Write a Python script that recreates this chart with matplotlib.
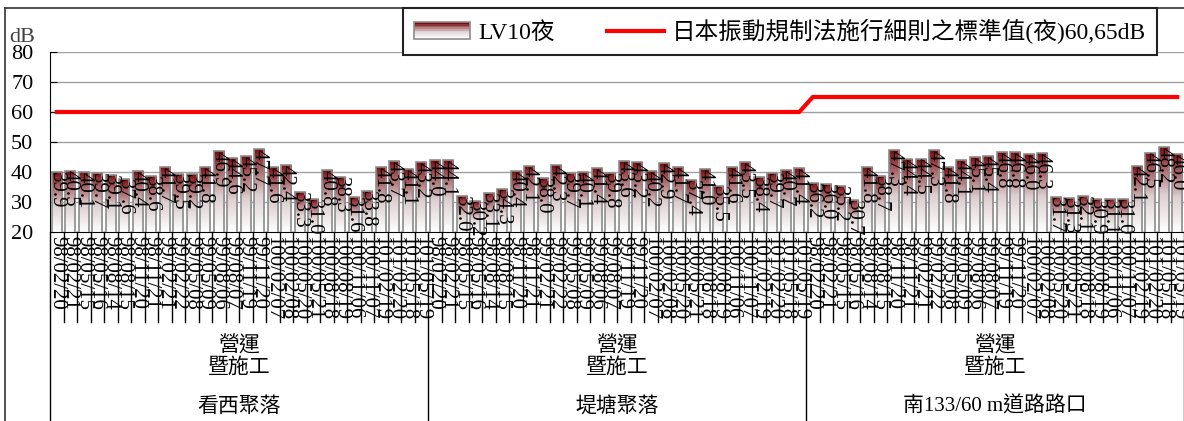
import matplotlib.pyplot as plt
import numpy as np
from matplotlib.colors import LinearSegmentedColormap
from matplotlib.legend_handler import HandlerBase
from matplotlib.patches import Rectangle
from matplotlib.lines import Line2D

plt.rcParams['font.family'] = ['Liberation Serif', 'Noto Sans CJK TC']

# dates of each survey (same for every site)
dates = ['98/02/20', '98/02/21', '98/05/15', '98/05/16', '98/08/14', '98/08/15',
         '98/11/20', '98/11/21', '99/02/21', '99/02/22', '99/05/08', '99/05/09',
         '99/08/06', '99/08/07', '99/11/19', '99/11/20', '100/02/07', '100/02/08',
         '100/05/20', '100/05/21', '100/08/18', '100/08/19', '100/11/06', '100/11/07',
         '101/02/19', '101/02/20', '101/05/18', '101/05/19']
sites = ['看西聚落', '堤塘聚落', '南133/60 m道路路口']
stage = '營運\n暨施工'

lv10_kanxi = [39.9, 40.5, 40.1, 39.7, 39.1, 37.6, 40.4, 38.6, 41.7, 39.5, 39.2, 41.8,
              46.9, 44.6, 45.2, 47.7, 41.6, 42.4, 33.3, 31.0, 40.8, 38.3, 31.6, 33.8,
              41.8, 43.7, 41.1, 43.2]
lv10_titang = [44.0, 44.1, 32.0, 30.2, 33.1, 34.3, 40.4, 42.1, 38.0, 42.3, 39.7, 40.1,
               41.4, 39.8, 43.6, 43.2, 40.2, 42.9, 41.7, 37.4, 41.0, 35.5, 41.6, 43.5,
               38.4, 39.7, 40.7, 41.4]
lv10_road = [36.2, 36.0, 35.2, 30.7, 41.8, 38.7, 47.3, 44.4, 44.5, 47.3, 41.8, 44.1,
             45.1, 45.4, 46.8, 46.8, 46.0, 46.3, 31.7, 31.3, 32.1, 30.9, 31.1, 31.0,
             42.1, 46.5, 48.2, 46.0]
site_limits = [60, 60, 65]

values = lv10_kanxi + lv10_titang + lv10_road
n_per = len(dates)
limits = [lim for lim in site_limits for _ in range(n_per)]
x = np.arange(len(values))

cmap = LinearSegmentedColormap.from_list(
    'bar', [(0, '#ffffff'), (0.45, '#dccfd0'), (0.78, '#a45a5e'), (1.0, '#780a0e')])


class GradientHandler(HandlerBase):
    def create_artists(self, legend, orig_handle, xdescent, ydescent,
                       width, height, fontsize, trans):
        n = 10
        arts = []
        for i in range(n):
            arts.append(Rectangle((-xdescent, -ydescent + i * height / n), width, height / n,
                                  facecolor=cmap(i / (n - 1)), edgecolor='none', transform=trans))
        arts.append(Rectangle((-xdescent, -ydescent), width, height, facecolor='none',
                              edgecolor='#8c8c8c', lw=1.2, transform=trans))
        return arts


fig = plt.figure(figsize=(11.84, 4.21), dpi=100)
ax = fig.add_axes([50 / 1184, 189 / 421, 1134 / 1184, 180 / 421])

bars = ax.bar(x, values, width=0.75, facecolor='none', edgecolor='#8c8c8c', lw=1.2, zorder=3)
grad = np.linspace(0, 1, 256).reshape(-1, 1)
for b in bars:
    x0, w, h = b.get_x(), b.get_width(), b.get_height()
    im = ax.imshow(grad, cmap=cmap, origin='lower', aspect='auto',
                   extent=(x0, x0 + w, 20, h), zorder=2)
    im.set_clip_path(b)
    ax.text(b.get_x() + w / 2, h, f'{h:.1f}', rotation=270, ha='center', va='top',
            fontsize=15, zorder=4)

ax.plot(x, limits, color='#ff0000', lw=3, zorder=5)

ax.set_xlim(-0.5, len(values) - 0.5)
ax.set_ylim(20, 80)
ax.set_yticks(range(20, 81, 10))
ax.tick_params(axis='y', direction='in', length=5, labelsize=16, pad=12)
ax.yaxis.grid(True, color='#a0a0a0', lw=1)
ax.set_axisbelow(True)
ax.set_xticks(x)
ax.set_xticklabels(dates * 3, rotation=270, fontsize=15)
ax.tick_params(axis='x', length=0, pad=3)
for s in ['top', 'right']:
    ax.spines[s].set_visible(False)
ax.spines['left'].set_color('black')
ax.spines['bottom'].set_color('black')

# category separators below the axis
xt = ax.get_xaxis_transform()
for i in range(len(values) + 1):
    xv = i - 0.5
    y_end = -1.06 if i % n_per == 0 else -0.5
    ax.plot([xv, xv], [0, y_end], transform=xt, clip_on=False, color='black', lw=1)

for k, site in enumerate(sites):
    xc = k * n_per + (n_per - 1) / 2
    ax.text(xc, -0.694, stage, transform=xt, ha='center', va='center', fontsize=15,
            linespacing=1.15)
    ax.text(xc, -0.972, site, transform=xt, ha='center', va='center', fontsize=15)

fig.text(9 / 1184, 1 - 37 / 421, 'dB', fontsize=16, color='#404040', va='center')

# outer chart border
fig.add_artist(Line2D([5 / 1184, 1], [1 - 8 / 421, 1 - 8 / 421], color='#333333', lw=1.2))
fig.add_artist(Line2D([5 / 1184, 5 / 1184], [0, 1 - 8 / 421], color='#333333', lw=1.2))

handles = [Rectangle((0, 0), 1, 1), Line2D([], [], color='#ff0000', lw=3)]
labels = ['LV10夜', '日本振動規制法施行細則之標準值(夜)60,65dB']
leg = fig.legend(handles, labels, handler_map={Rectangle: GradientHandler()},
                 loc='upper left', bbox_to_anchor=(403 / 1184, 1 - 8 / 421), ncol=2,
                 fancybox=False, edgecolor='#222222', framealpha=1, borderaxespad=0,
                 columnspacing=2.2, handlelength=2.4, handletextpad=0.35,
                 borderpad=0.45, prop={'size': 17})
leg.get_frame().set_linewidth(1.5)

fig.savefig('out.png', dpi=100)
